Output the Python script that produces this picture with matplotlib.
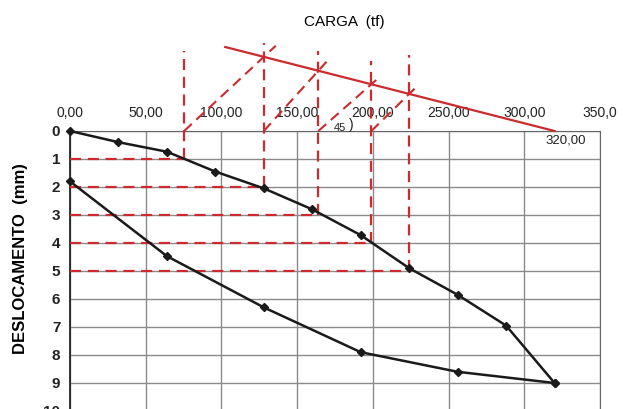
import matplotlib
matplotlib.use("Agg")
import matplotlib.pyplot as plt
import numpy as np

plt.rcParams['font.family'] = ['Liberation Sans', 'DejaVu Sans']

# Load test data (tf, mm)
load_up = [0, 32, 64, 96, 128, 160, 192, 224, 256, 288, 320]
disp_up = [0, 0.40, 0.74, 1.45, 2.05, 2.80, 3.72, 4.90, 5.85, 6.95, 9.0]
load_down = [320, 256, 192, 128, 64, 0]
disp_down = [9.0, 8.6, 7.9, 6.3, 4.47, 1.8]

# Construction (Mazurkiewicz-type) values
disp_levels = [1, 2, 3, 4, 5]
cross_loads = [75.4, 128, 164, 199, 224]
vert_tops = [-2.87, -3.16, -2.87, -2.5, -2.7]
red_start = (320, 0.0)
red_end = (102.5, -3.0)

x_ticks = [0, 50, 100, 150, 200, 250, 300, 350]
x_labels = ["0,00", "50,00", "100,00", "150,00", "200,00", "250,00", "300,00", "350,0"]
y_ticks = list(range(0, 11))

fig = plt.figure(figsize=(6.23, 4.09), dpi=100)
W, H = 623, 409
ax = fig.add_axes([70 / W, 1 - 411 / H, 530 / W, 280 / H])
ax.set_xlim(0, 350)
ax.set_ylim(10, 0)

ax.set_xticks(x_ticks)
ax.set_xticklabels(x_labels, fontsize=10, color='#222222')
ax.xaxis.tick_top()
ax.tick_params(axis='x', length=0, pad=8)
ax.set_yticks(y_ticks)
ax.set_yticklabels([str(v) for v in y_ticks], fontsize=11, fontweight='bold', color='#222222')
ax.tick_params(axis='y', length=0, pad=7)
ax.grid(True, color='#8a8a8a', lw=1.0)
for s in ax.spines.values():
    s.set_color('#666666')
ax.spines['left'].set_color('#222222')
ax.spines['left'].set_linewidth(1.3)

red = '#cc2a2e'
dash = (5, 3)

def red_line_y(x):
    (x0, y0), (x1, y1) = red_start, red_end
    return y0 + (y1 - y0) * (x - x0) / (x1 - x0)

# horizontal dashed lines
for d, x in zip(disp_levels, cross_loads):
    ax.plot([0, x], [d, d], color=red, lw=1.6, dashes=dash, zorder=3)
# vertical dashed lines
for d, x, t in zip(disp_levels, cross_loads, vert_tops):
    ax.plot([x, x], [d, t], color=red, lw=1.6, dashes=dash, zorder=3, clip_on=False)
# diagonal dashed lines
for i in range(len(cross_loads) - 1):
    x0 = cross_loads[i]
    x1 = cross_loads[i + 1]
    y1 = red_line_y(x1)
    ext = 1.15
    xe = x0 + (x1 - x0) * ext
    ye = y1 * ext
    ax.plot([x0, xe], [0, ye], color=red, lw=1.5, dashes=dash, zorder=3, clip_on=False)
# red solid line
ax.plot([red_start[0], red_end[0]], [red_start[1], red_end[1]], color=red, lw=1.6,
        zorder=3, clip_on=False)

# load-displacement curve
ax.plot(load_up, disp_up, color='#1a1a1a', lw=1.8, marker='D', ms=4.5, zorder=4, clip_on=False)
ax.plot(load_down, disp_down, color='#1a1a1a', lw=1.8, marker='D', ms=4.5, zorder=4, clip_on=False)

ax.text(314, 0.35, "320,00", fontsize=9.5, ha='left', va='center', color='#222222')
ax.text(178, -0.1, "45", fontsize=8, ha='center', va='center', color='#222222')
ax.text(186, -0.2, ")", fontsize=10, ha='center', va='center', color='#222222')

fig.text(344 / W, 1 - 22 / H, "CARGA  (tf)", fontsize=11, ha='center', va='center')
fig.text(21 / W, 1 - 259 / H, "DESLOCAMENTO  (mm)", fontsize=12, fontweight='bold',
         rotation=90, ha='center', va='center')

fig.savefig("out.png", dpi=100)
